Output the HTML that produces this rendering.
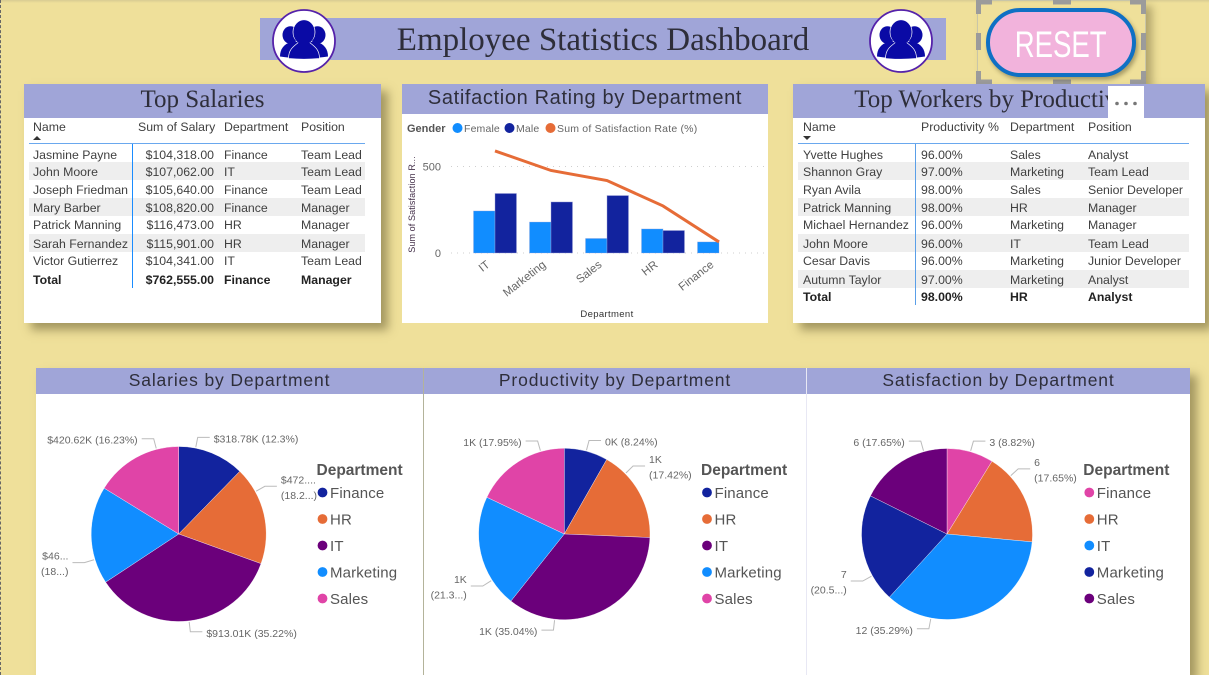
<!DOCTYPE html>
<html lang="en">
<head>
<meta charset="utf-8">
<title>Employee Statistics Dashboard</title>
<style>
html,body{margin:0;padding:0;width:1209px;height:675px;overflow:hidden}
body{position:relative;background:#EFE09A;font-family:"Liberation Sans",sans-serif;color:#333}
.a{position:absolute;white-space:nowrap}
.panel{position:absolute;background:#fff;box-shadow:7px 7px 9px rgba(90,80,40,.5)}
.head{position:absolute;left:0;top:0;background:#A0A5D8;text-align:center;color:#2e2e3a;overflow:hidden;white-space:nowrap}
.serif{font-family:"Liberation Serif",serif;font-size:25px;height:34px;line-height:31px;width:100%}
.din{font-size:20px;letter-spacing:.65px;height:30px;line-height:29px;width:100%}
.pie-h{font-size:17.5px;letter-spacing:.85px;height:26px;line-height:25px}
.r{position:absolute;height:18px;line-height:18px;font-size:12.3px;color:#404040}
.r.band{background:#EEEEEE;line-height:20.5px}
.r.total{font-weight:bold;color:#222}
.r span{position:absolute;white-space:nowrap;top:0}
.hd{position:absolute;font-size:12.3px;color:#404040;white-space:nowrap}
svg{position:absolute;left:0;top:0;overflow:visible}
</style>
</head>
<body>
<div class="a" style="left:0;top:0;width:1209px;height:3px;background:linear-gradient(#d8cc93,#EFE09A)"></div>
<div class="a" style="left:0;top:0;width:0;height:675px;border-left:1px dashed #666"></div>

<div class="a" style="left:260px;top:18px;width:686px;height:42px;background:#A0A5D8"></div>
<div class="a" style="left:260px;top:20px;width:686px;height:42px;line-height:41px;text-align:center;font-family:'Liberation Serif',serif;font-size:33px;color:#2e2e3a">Employee Statistics Dashboard</div>

<svg width="1209" height="675" style="pointer-events:none">
  <g transform="translate(304,41)">
    <circle r="31" fill="#fff" stroke="#5522AA" stroke-width="1.8"/>
    <g fill="#0A0AA5">
      <ellipse cx="-13.5" cy="-6" rx="8" ry="8.8"/><ellipse cx="13.5" cy="-6" rx="8" ry="8.8"/>
      <path d="M-24 15.5 C-24 8-20 3-13 1 L-4 1 L-4 17 Q-15 17-24 15.5Z"/><path d="M24 15.5 C24 8 20 3 13 1 L4 1 L4 17 Q15 17 24 15.5Z"/>
      <ellipse cx="0" cy="-9" rx="11" ry="12.2" stroke="#fff" stroke-width=".7"/>
      <path d="M-15.5 17.5 C-15.5 8-10 5-5 1 L5 1 C10 5 15.5 8 15.5 17.5 Q0 19-15.5 17.5Z" stroke="#fff" stroke-width=".7"/>
      <ellipse cx="0" cy="-8" rx="10.4" ry="11.6"/>
    </g>
  </g>
  <g transform="translate(901,41)">
    <circle r="31" fill="#fff" stroke="#5522AA" stroke-width="1.8"/>
    <g fill="#0A0AA5">
      <ellipse cx="-13.5" cy="-6" rx="8" ry="8.8"/><ellipse cx="13.5" cy="-6" rx="8" ry="8.8"/>
      <path d="M-24 15.5 C-24 8-20 3-13 1 L-4 1 L-4 17 Q-15 17-24 15.5Z"/><path d="M24 15.5 C24 8 20 3 13 1 L4 1 L4 17 Q15 17 24 15.5Z"/>
      <ellipse cx="0" cy="-9" rx="11" ry="12.2" stroke="#fff" stroke-width=".7"/>
      <path d="M-15.5 17.5 C-15.5 8-10 5-5 1 L5 1 C10 5 15.5 8 15.5 17.5 Q0 19-15.5 17.5Z" stroke="#fff" stroke-width=".7"/>
      <ellipse cx="0" cy="-8" rx="10.4" ry="11.6"/>
    </g>
  </g>
</svg>

<div class="a" style="left:977px;top:0;width:167px;height:83px;border:1px solid #c9c6a8;box-shadow:6px 6px 8px rgba(90,80,40,.4)"></div>
<svg width="1209" height="675" style="pointer-events:none">
  <g fill="none" stroke="#9b9b9b" stroke-width="5">
    <path d="M978.5 14V2H992"/><path d="M1130 2H1143.5V14"/><path d="M978.5 71V82H992"/><path d="M1130 82H1143.5V71"/>
    <path d="M1053 2H1071"/><path d="M1053 82H1071"/><path d="M978.5 33V50"/><path d="M1143.5 33V50"/>
  </g>
</svg>
<div class="a" style="left:986px;top:8px;width:142px;height:61px;border:4px solid #0F70C4;border-radius:36px;background:#F2B3DC;box-shadow:2px 3px 4px rgba(80,70,40,.45);text-align:center"><span style="display:inline-block;color:#fff;font-size:37px;line-height:66px;transform:scaleX(.745)">RESET</span></div>

<!-- Top Salaries -->
<div class="panel" style="left:24px;top:84px;width:357px;height:239px">
  <div class="head serif">Top Salaries</div>
  <span class="hd" style="left:9px;top:36px">Name</span>
  <svg width="20" height="10" style="left:9px;top:50px"><path d="M0 6L4 2L8 6Z" fill="#333"/></svg>
  <span class="hd" style="left:114px;top:36px">Sum of Salary</span>
  <span class="hd" style="left:200px;top:36px">Department</span>
  <span class="hd" style="left:277px;top:36px">Position</span>
  <div class="a" style="left:5px;top:59px;width:336px;height:1px;background:#6aa8ee"></div>
  <div class="r" style="left:5px;top:62px;width:336px"><span style="left:4px">Jasmine Payne</span><span style="right:151px">$104,318.00</span><span style="left:195px">Finance</span><span style="left:272px">Team Lead</span></div>
  <div class="r band" style="left:5px;top:78px;width:336px"><span style="left:4px">John Moore</span><span style="right:151px">$107,062.00</span><span style="left:195px">IT</span><span style="left:272px">Team Lead</span></div>
  <div class="r" style="left:5px;top:97px;width:336px"><span style="left:4px">Joseph Friedman</span><span style="right:151px">$105,640.00</span><span style="left:195px">Finance</span><span style="left:272px">Team Lead</span></div>
  <div class="r band" style="left:5px;top:114px;width:336px"><span style="left:4px">Mary Barber</span><span style="right:151px">$108,820.00</span><span style="left:195px">Finance</span><span style="left:272px">Manager</span></div>
  <div class="r" style="left:5px;top:132px;width:336px"><span style="left:4px">Patrick Manning</span><span style="right:151px">$116,473.00</span><span style="left:195px">HR</span><span style="left:272px">Manager</span></div>
  <div class="r band" style="left:5px;top:150px;width:336px"><span style="left:4px">Sarah Fernandez</span><span style="right:151px">$115,901.00</span><span style="left:195px">HR</span><span style="left:272px">Manager</span></div>
  <div class="r" style="left:5px;top:168px;width:336px"><span style="left:4px">Victor Gutierrez</span><span style="right:151px">$104,341.00</span><span style="left:195px">IT</span><span style="left:272px">Team Lead</span></div>
  <div class="r total" style="left:5px;top:187px;width:336px"><span style="left:4px">Total</span><span style="right:151px">$762,555.00</span><span style="left:195px">Finance</span><span style="left:272px">Manager</span></div>
  <div class="a" style="left:108px;top:60px;width:1px;height:144px;background:#1a8cff"></div>
</div>

<!-- Satisfaction chart -->
<div class="panel" style="left:402px;top:84px;width:366px;height:239px;box-shadow:none">
  <div class="head din">Satifaction Rating by Department</div>
</div>

<!-- Top Workers -->
<div class="panel" style="left:793px;top:84px;width:412px;height:239px">
  <div class="head serif">Top Workers by Productivity</div>
  <span class="hd" style="left:10px;top:36px">Name</span>
  <svg width="20" height="10" style="left:10px;top:50px"><path d="M0 2L4 6L8 2Z" fill="#333"/></svg>
  <span class="hd" style="left:128px;top:36px">Productivity %</span>
  <span class="hd" style="left:217px;top:36px">Department</span>
  <span class="hd" style="left:295px;top:36px">Position</span>
  <div class="a" style="left:5px;top:59px;width:391px;height:1px;background:#6aa8ee"></div>
  <div class="r" style="left:5px;top:62px;width:391px"><span style="left:5px">Yvette Hughes</span><span style="left:123px">96.00%</span><span style="left:212px">Sales</span><span style="left:290px">Analyst</span></div>
  <div class="r band" style="left:5px;top:78px;width:391px"><span style="left:5px">Shannon Gray</span><span style="left:123px">97.00%</span><span style="left:212px">Marketing</span><span style="left:290px">Team Lead</span></div>
  <div class="r" style="left:5px;top:97px;width:391px"><span style="left:5px">Ryan Avila</span><span style="left:123px">98.00%</span><span style="left:212px">Sales</span><span style="left:290px">Senior Developer</span></div>
  <div class="r band" style="left:5px;top:114px;width:391px"><span style="left:5px">Patrick Manning</span><span style="left:123px">98.00%</span><span style="left:212px">HR</span><span style="left:290px">Manager</span></div>
  <div class="r" style="left:5px;top:132px;width:391px"><span style="left:5px">Michael Hernandez</span><span style="left:123px">96.00%</span><span style="left:212px">Marketing</span><span style="left:290px">Manager</span></div>
  <div class="r band" style="left:5px;top:150px;width:391px"><span style="left:5px">John Moore</span><span style="left:123px">96.00%</span><span style="left:212px">IT</span><span style="left:290px">Team Lead</span></div>
  <div class="r" style="left:5px;top:168px;width:391px"><span style="left:5px">Cesar Davis</span><span style="left:123px">96.00%</span><span style="left:212px">Marketing</span><span style="left:290px">Junior Developer</span></div>
  <div class="r band" style="left:5px;top:186px;width:391px"><span style="left:5px">Autumn Taylor</span><span style="left:123px">97.00%</span><span style="left:212px">Marketing</span><span style="left:290px">Analyst</span></div>
  <div class="r total" style="left:5px;top:204px;width:391px"><span style="left:5px">Total</span><span style="left:123px">98.00%</span><span style="left:212px">HR</span><span style="left:290px">Analyst</span></div>
  <div class="a" style="left:122px;top:60px;width:1px;height:161px;background:#5a9fe8"></div>
  <div class="a" style="left:315px;top:2px;width:36px;height:32px;background:#fff"><svg width="36" height="32"><g fill="#777"><circle cx="9" cy="17.5" r="1.8"/><circle cx="18" cy="17.5" r="1.8"/><circle cx="27" cy="17.5" r="1.8"/></g></svg></div>
</div>

<!-- Pies -->
<div class="panel" style="left:36px;top:368px;width:1154px;height:307px;box-shadow:7px 7px 9px rgba(90,80,40,.5)">
  <div class="head pie-h" style="left:0;width:387px">Salaries by Department</div>
  <div class="head pie-h" style="left:388px;width:382px">Productivity by Department</div>
  <div class="head pie-h" style="left:771px;width:383px">Satisfaction by Department</div>
  <div class="a" style="left:387px;top:0;width:1px;height:307px;background:#b3b39a"></div>
  <div class="a" style="left:770px;top:0;width:1px;height:307px;background:#e8e8f4"></div>
</div>

<svg id="charts" width="1209" height="675" font-family="'Liberation Sans',sans-serif"></svg>

<script>
// Combo chart data
const barCategories = ["IT", "Marketing", "Sales", "HR", "Finance"];
const femaleValues = [243, 179, 84, 139, 64];
const maleValues = [344, 295, 332, 130, 0];
const satisfactionValues = [590, 477, 419, 272, 64];
const yTickValues = [0, 500];
const yTickLabels = ["0", "500"];

// Pie chart data
const pieDepartments = ["Finance", "HR", "IT", "Marketing", "Sales"];
const salaryValues = [318.78, 472, 913.01, 468, 420.62];
const salaryLabels = ["$318.78K (12.3%)", "$472....\n(18.2...)", "$913.01K (35.22%)", "$46...\n(18...)", "$420.62K (16.23%)"];
const productivityValues = [8.24, 17.42, 35.04, 21.35, 17.95];
const productivityLabels = ["0K (8.24%)", "1K\n(17.42%)", "1K (35.04%)", "1K\n(21.3...)", "1K (17.95%)"];
const satisfactionCounts = [3, 6, 12, 7, 6];
const satisfactionLabels = ["3 (8.82%)", "6\n(17.65%)", "12 (35.29%)", "7\n(20.5...)", "6 (17.65%)"];

const NS = "http://www.w3.org/2000/svg";
const root = document.getElementById("charts");
function mk(tag, attrs, parent, text) {
  const el = document.createElementNS(NS, tag);
  for (const k in attrs) el.setAttribute(k, attrs[k]);
  if (text !== undefined) el.textContent = text;
  (parent || root).appendChild(el);
  return el;
}

// ---- Combo chart ----
const xScale = i => 495 + 56 * i;
const yScale = v => 253 - v * 86.5 / 500;
const barWidth = 21.5;
const comboColors = { female: "#118DFF", male: "#12239E", line: "#E66C37" };

const comboGroup = mk("g", {});



const genderTitle = mk("text", { x: 407, y: 132, "font-size": 11, "font-weight": "bold", fill: "#555" }, comboGroup, "Gender");



const legFemaleDot = mk("circle", { cx: 457.5, cy: 128, r: 5, fill: comboColors.female }, comboGroup);


const legFemale = mk("text", { x: 464, y: 132, "font-size": 10.5, "letter-spacing": ".15", fill: "#666" }, comboGroup, "Female");


const legMaleDot = mk("circle", { cx: 509.5, cy: 128, r: 5, fill: comboColors.male }, comboGroup);


const legMale = mk("text", { x: 516, y: 132, "font-size": 10.5, "letter-spacing": ".15", fill: "#666" }, comboGroup, "Male");


const legLineDot = mk("circle", { cx: 550.5, cy: 128, r: 5, fill: comboColors.line }, comboGroup);


const legLine = mk("text", { x: 557, y: 132, "font-size": 10.5, "letter-spacing": ".2", fill: "#666" }, comboGroup, "Sum of Satisfaction Rate (%)");



yTickValues.forEach((v, i) => {
  const grid = mk("line", { x1: 451, x2: 765, y1: yScale(v), y2: yScale(v), stroke: "#cfcfcf", "stroke-width": 1, "stroke-dasharray": "1 5" }, comboGroup);
  
  
  const tick = mk("text", { x: 441, y: yScale(v) + 4, "text-anchor": "end", "font-size": 11, fill: "#666" }, comboGroup, yTickLabels[i]);
  
  
});

barCategories.forEach((c, i) => {
  const x = xScale(i);
  const fBar = mk("rect", { x: x - barWidth, y: yScale(femaleValues[i]), width: barWidth, height: yScale(0) - yScale(femaleValues[i]), fill: comboColors.female, stroke: "#A0A5D8", "stroke-opacity": .45, "stroke-width": .7 }, comboGroup);
  
  
  const mBar = mk("rect", { x: x, y: yScale(maleValues[i]), width: barWidth, height: yScale(0) - yScale(maleValues[i]), fill: comboColors.male, stroke: "#A0A5D8", "stroke-opacity": .6, "stroke-width": maleValues[i] > 0 ? .7 : 0 }, comboGroup);
  
  
  const ax = x - 4.5, ay = 266;
  const lab = mk("text", { x: ax, y: ay, "text-anchor": "end", "font-size": 11.5, fill: "#666", transform: "rotate(-38 " + ax + " " + ay + ")" }, comboGroup, c);
  
  
});

const linePts = satisfactionValues.map((v, i) => xScale(i) + "," + yScale(v)).join(" ");
const satLine = mk("polyline", { points: linePts, fill: "none", stroke: comboColors.line, "stroke-width": 3 }, comboGroup);



const yTitle = mk("text", { x: 0, y: 0, "text-anchor": "middle", "font-size": 9, "letter-spacing": ".1", fill: "#44304a", transform: "translate(415,204.5) rotate(-90)" }, comboGroup, "Sum of Satisfaction R...");


const xTitle = mk("text", { x: 607, y: 317, "text-anchor": "middle", "font-size": 9.5, "letter-spacing": ".35", fill: "#333" }, comboGroup, "Department");



// ---- Pies ----
const NAVY = "#12239E", ORANGE = "#E66C37", PURPLE = "#6B007B", BLUE = "#118DFF", PINK = "#E044A7";

function drawPie(prefix, cx, cy, r, values, labels, colors, shifts, legendX) {
  const group = mk("g", {});
  
  
  const total = values.reduce((a, b) => a + b, 0);
  const polar = (deg, rad) => [cx + rad * Math.sin(deg * Math.PI / 180), cy - rad * Math.cos(deg * Math.PI / 180)];
  let acc = 0;
  values.forEach((v, i) => {
    const a0 = acc / total * 360, a1 = (acc + v) / total * 360;
    acc += v;
    const p0 = polar(a0, r), p1 = polar(a1, r);
    const d = "M" + cx + " " + cy + "L" + p0[0] + " " + p0[1] + "A" + r + " " + r + " 0 " + (a1 - a0 > 180 ? 1 : 0) + " 1 " + p1[0] + " " + p1[1] + "Z";
    const slice = mk("path", { d: d, fill: colors[i], stroke: "#fff", "stroke-width": .35 }, group);
    
    

    const ang = (a0 + a1) / 2 + shifts[i];
    const s = polar(ang, r + 1), e = polar(ang, r + 11);
    const dir = Math.sin(ang * Math.PI / 180) >= 0 ? 1 : -1;
    const endX = e[0] + dir * 12;
    const leader = mk("polyline", { points: s.join(",") + " " + e.join(",") + " " + endX + "," + e[1], fill: "none", stroke: "#bbb", "stroke-width": 1 }, group);
    
    

    const lines = labels[i].split("\n");
    lines.forEach((t, j) => {
      const ty = lines.length === 1 ? e[1] + 5 : e[1] - 3 + j * 15.5;
      const label = mk("text", { x: endX + dir * 4, y: ty, "text-anchor": dir > 0 ? "start" : "end", "font-size": 10.5, fill: "#666" }, group, t);
      
      
    });
  });

  const lt = mk("text", { x: legendX, y: 475, "font-size": 15.5, "font-weight": "bold", fill: "#555" }, group, "Department");
  
  
  pieDepartments.forEach((dep, i) => {
    const ly = 493 + i * 26.5;
    const dot = mk("circle", { cx: legendX + 6, cy: ly - .5, r: 4.9, fill: colors[i] }, group);
    
    
    const txt = mk("text", { x: legendX + 13.5, y: ly + 5, "font-size": 15, "letter-spacing": ".15", fill: "#555" }, group, dep);
    
    
  });
}

drawPie("salaries", 178.7, 534, 87.5, salaryValues, salaryLabels, [NAVY, ORANGE, PURPLE, BLUE, PINK], [-11, -16, 0, -16, 14.5], 316.5);
drawPie("productivity", 564.3, 534, 85.7, productivityValues, productivityLabels, [NAVY, ORANGE, PURPLE, BLUE, PINK], [0, -15.7, 31, -19.5, 16.3], 701);
drawPie("satisfaction", 947, 534, 85.5, satisfactionCounts, satisfactionLabels, [PINK, ORANGE, BLUE, NAVY, PURPLE], [0, -16, 32, -18.6, 16], 1083.3);
</script>
</body>
</html>
